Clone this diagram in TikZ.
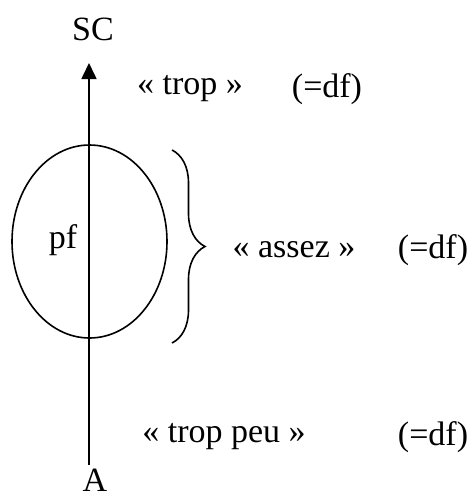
\documentclass[tikz,border=0pt]{standalone}
\usepackage{fontspec}
\setmainfont{Liberation Serif}
\usetikzlibrary{arrows.meta,decorations.pathreplacing}
\begin{document}
\begin{tikzpicture}[x=1pt, y=-1pt, line width=1.6pt,
		lbl/.style={font=\fontsize{34}{40}\selectfont, inner sep=0pt}]
			\useasboundingbox (0,0) rectangle (473,499);
			% Axe
			\coordinate (bas) at (89,465);
			\coordinate (haut) at (89,63);
			\draw[-{Triangle[length=16pt,width=15pt]}] (bas) -- (haut);
			\node[lbl] (SC) at (93,29) {SC};
			\node[lbl] (A) at (95,480) {A};

			% Ellipse et accolade
			\draw (89.5,241.5) ellipse [x radius=77.5, y radius=96.5];
			\node[lbl] (pf) at (63,240) {pf};
			\coordinate (acc1) at (172,150);
			\coordinate (acc2) at (172,343);
			\draw[decorate, decoration={brace, amplitude=33pt}, line width=1.6pt] (acc1) -- (acc2);

			% Textes
			\node[lbl] (trop) at (190,89) {« trop »};
			\node[lbl] (df1) at (327,89) {(=df)};
			\node[lbl] (assez) at (294,250) {« assez »};
			\node[lbl] (df2) at (433,250) {(=df)};
			\node[lbl] (peu) at (224,437) {« trop peu »};
			\node[lbl] (df3) at (433,437) {(=df)};
		\end{tikzpicture}
\end{document}
